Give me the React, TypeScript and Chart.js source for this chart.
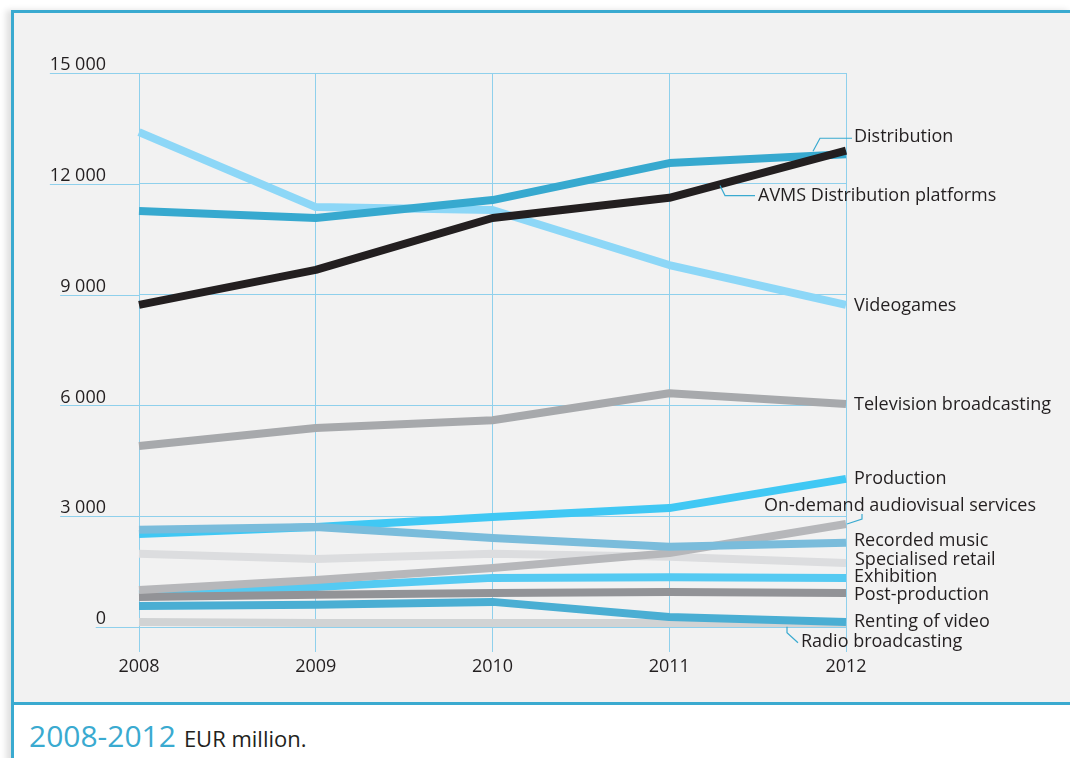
import { useEffect, useRef } from "react";
import { Chart, registerables } from "chart.js";

Chart.register(...registerables);

// ---------- data ----------
const years = ["2008", "2009", "2010", "2011", "2012"];
const yTickValues = [0, 3000, 6000, 9000, 12000, 15000];

const avmsPlatforms = [8720, 9670, 11075, 11620, 12900];
const distribution = [11265, 11075, 11560, 12560, 12800];
const videogames = [13400, 11370, 11290, 9800, 8720];
const televisionBroadcasting = [4900, 5390, 5600, 6330, 6040];
const production = [2520, 2710, 2980, 3220, 4010];
const onDemandServices = [1000, 1270, 1600, 2000, 2790];
const recordedMusic = [2630, 2710, 2410, 2170, 2280];
const specialisedRetail = [1980, 1840, 1980, 1900, 1730];
const exhibition = [890, 1080, 1330, 1350, 1330];
const postProduction = [810, 870, 920, 950, 920];
const rentingOfVideo = [570, 600, 680, 270, 135];
const radioBroadcasting = [135, 110, 110, 110, 60];

const seriesNames = [
  "AVMS Distribution platforms",
  "Distribution",
  "Videogames",
  "Television broadcasting",
  "Production",
  "On-demand audiovisual services",
  "Recorded music",
  "Specialised retail",
  "Exhibition",
  "Post-production",
  "Renting of video",
  "Radio broadcasting",
];
const seriesValues = [
  avmsPlatforms,
  distribution,
  videogames,
  televisionBroadcasting,
  production,
  onDemandServices,
  recordedMusic,
  specialisedRetail,
  exhibition,
  postProduction,
  rentingOfVideo,
  radioBroadcasting,
];

// ---------- styles ----------
const seriesColors = [
  "#231f20",
  "#37a9cf",
  "#8dd7f7",
  "#a7a9ac",
  "#40c8f4",
  "#b6b7ba",
  "#7abcdb",
  "#dcdddf",
  "#55caf2",
  "#929397",
  "#4aaed3",
  "#d1d3d4",
];
// lower = drawn on top
const seriesOrder = [1, 2, 3, 4, 6, 5, 4, 8, 9, 7, 10, 11];

// label placement relative to the end point of each line (pixel offsets)
type LabelLayout = { dx: number; dy: number; leader?: number[][] };
const labelLayouts: LabelLayout[] = [
  { dx: -88, dy: 45, leader: [[-126, 35], [-121, 45], [-91, 45]] },
  { dx: 8, dy: -17, leader: [[-33, -3], [-26, -16], [6, -16]] },
  { dx: 8, dy: 1 },
  { dx: 8, dy: 1 },
  { dx: 8, dy: 0 },
  { dx: -82, dy: -18, leader: [[1, 0], [16, -5], [16, -10]] },
  { dx: 8, dy: -2 },
  { dx: 9, dy: -3 },
  { dx: 8, dy: -1 },
  { dx: 8, dy: 2 },
  { dx: 8, dy: 0 },
  { dx: -45, dy: 17, leader: [[-59, 2], [-59, 8], [-48, 18]] },
];

const BLUE = "#3aaad0";
const GRID = "#8fd0ec";
const TEXT = "#231f20";
const FONT_FAMILY = "'Open Sans', sans-serif";
const Y_LABEL_PAD = 33;

const formatThousands = (v: number) =>
  String(v).replace(/\B(?=(\d{3})+(?!\d))/g, " ");

const decorPlugin = {
  id: "decor",
  beforeDatasetsDraw(chart: any) {
    const { ctx, chartArea, scales } = chart;
    const y = scales.y;
    ctx.save();
    ctx.font = `18px ${FONT_FAMILY}`;
    ctx.strokeStyle = GRID;
    ctx.lineWidth = 1;
    y.ticks.forEach((t: any) => {
      const py = Math.round(y.getPixelForValue(t.value)) + 0.5;
      const w = ctx.measureText(formatThousands(t.value)).width;
      const x0 = chartArea.left - Y_LABEL_PAD - w;
      ctx.beginPath();
      ctx.moveTo(x0, py);
      ctx.lineTo(chartArea.left, py);
      ctx.stroke();
    });
    ctx.restore();
  },
  afterDatasetsDraw(chart: any) {
    const { ctx, scales } = chart;
    const x = scales.x;
    const y = scales.y;
    ctx.save();
    ctx.font = `18px ${FONT_FAMILY}`;
    ctx.fillStyle = TEXT;
    ctx.textBaseline = "middle";
    ctx.textAlign = "left";
    seriesNames.forEach((name, i) => {
      const vals = seriesValues[i];
      const last = vals.length - 1;
      const ex = x.getPixelForValue(last);
      const ey = y.getPixelForValue(vals[last]);
      const lay = labelLayouts[i];
      if (lay.leader) {
        ctx.strokeStyle = BLUE;
        ctx.lineWidth = 1.2;
        ctx.beginPath();
        lay.leader.forEach((p, k) => {
          if (k === 0) ctx.moveTo(ex + p[0], ey + p[1]);
          else ctx.lineTo(ex + p[0], ey + p[1]);
        });
        ctx.stroke();
      }
      ctx.fillText(name, ex + lay.dx, ey + lay.dy);
    });
    ctx.restore();
  },
};

function LineChart() {
  const ref = useRef<HTMLCanvasElement | null>(null);
  useEffect(() => {
    if (!ref.current) return;
    const chart = new Chart(ref.current, {
      type: "line",
      data: {
        labels: years,
        datasets: seriesNames.map((name, i) => ({
          label: name,
          data: seriesValues[i],
          borderColor: seriesColors[i],
          backgroundColor: seriesColors[i],
          borderWidth: 8,
          borderCapStyle: "butt",
          borderJoinStyle: "round",
          pointRadius: 0,
          tension: 0,
          fill: false,
          order: seriesOrder[i],
        })),
      },
      options: {
        responsive: false,
        animation: false,
        events: [],
        layout: { padding: { left: 50, right: 224, top: 73, bottom: 23 } },
        plugins: { legend: { display: false }, tooltip: { enabled: false } },
        scales: {
          x: {
            type: "category",
            offset: false,
            afterFit: (s: any) => {
              s.height = 50;
            },
            grid: {
              color: GRID,
              lineWidth: 1,
              drawTicks: true,
              tickLength: 25,
              tickColor: GRID,
            },
            border: { display: false },
            ticks: {
              color: TEXT,
              font: { family: FONT_FAMILY, size: 18 },
              padding: 4,
              maxRotation: 0,
            },
          },
          y: {
            min: 0,
            max: 15000,
            afterFit: (s: any) => {
              s.width = 89;
            },
            afterBuildTicks: (s: any) => {
              s.ticks = yTickValues.map((v) => ({ value: v }));
            },
            grid: { color: GRID, lineWidth: 1, drawTicks: false },
            border: { display: false },
            ticks: {
              color: TEXT,
              font: { family: FONT_FAMILY, size: 18 },
              padding: Y_LABEL_PAD,
              labelOffset: -8,
              callback: (v: any) => formatThousands(Number(v)),
            },
          },
        },
      },
      plugins: [decorPlugin],
    } as any);
    return () => chart.destroy();
  }, []);
  return (
    <canvas
      ref={ref}
      width={1070}
      height={700}
      style={{ position: "absolute", left: 0, top: 0, width: 1070, height: 700 }}
    />
  );
}

export default function App() {
  return (
    <div
      style={{
        position: "absolute",
        left: 0,
        top: 0,
        width: 1070,
        height: 758,
        overflow: "hidden",
        background: "#ffffff",
        fontFamily: FONT_FAMILY,
      }}
    >
      <div
        style={{
          position: "absolute",
          left: 11,
          top: 10,
          width: 1059,
          height: 760,
          borderLeft: `3px solid ${BLUE}`,
          borderTop: `3px solid ${BLUE}`,
          background: "#ffffff",
          boxShadow: "-5px 0 6px rgba(0,0,0,0.12)",
        }}
      >
        <div
          style={{
            height: 689,
            background: "#f2f2f2",
            borderBottom: `3px solid ${BLUE}`,
          }}
        />
      </div>
      <LineChart />
      <div
        style={{
          position: "absolute",
          left: 29,
          top: 721,
          whiteSpace: "nowrap",
          lineHeight: "30px",
        }}
      >
        <span style={{ fontSize: 30, color: BLUE }}>2008-2012</span>
        <span style={{ fontSize: 22, color: TEXT, marginLeft: 8 }}>EUR million.</span>
      </div>
    </div>
  );
}
